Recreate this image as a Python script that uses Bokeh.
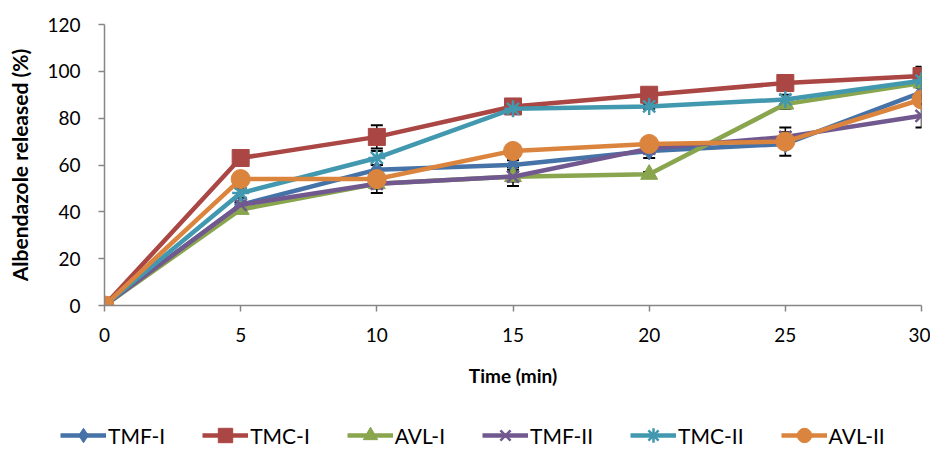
from bokeh.plotting import figure
from bokeh.models import ColumnDataSource, Whisker, TeeHead, Legend, LegendItem, Range1d, FixedTicker
from bokeh.embed import file_html
from bokeh.resources import INLINE

time = [0, 5, 10, 15, 20, 25, 30]
series_names = ["TMF-I", "TMC-I", "AVL-I", "TMF-II", "TMC-II", "AVL-II"]
tmf_i = [0, 43, 58, 60, 66, 69, 91]
tmc_i = [0, 63, 72, 85, 90, 95, 98]
avl_i = [0, 41, 52, 55, 56, 86, 95]
tmf_ii = [0, 43, 52, 55, 67, 72, 81]
tmc_ii = [0, 48, 63, 84, 85, 88, 96]
avl_ii = [0, 54, 54, 66, 69, 70, 88]
err_tmf_i = [0, 1, 2, 2, 3, 5, 3]
err_tmc_i = [0, 3, 5, 2, 2, 2, 4]
err_avl_i = [0, 1, 4, 4, 1, 2, 2]
err_tmf_ii = [0, 1, 2, 2, 2, 4, 5]
err_tmc_ii = [0, 2, 3, 1, 1, 2, 2]
err_avl_ii = [0, 1, 2, 1, 1, 2, 2]
y_ticks = [0, 20, 40, 60, 80, 100, 120]
x_ticks = [0, 5, 10, 15, 20, 25, 30]

values = [tmf_i, tmc_i, avl_i, tmf_ii, tmc_ii, avl_ii]
errors = [err_tmf_i, err_tmc_i, err_avl_i, err_tmf_ii, err_tmc_ii, err_avl_ii]
colors = ["#4572A7", "#AA4643", "#89A54E", "#71588F", "#4198AF", "#DB843D"]
markers = ["diamond", "square", "triangle", "x", "asterisk", "circle"]
sizes = [18, 17, 17, 17, 17, 19]
line_widths = [1, 1, 1, 2.5, 2.5, 1]

FONT = "Lato"

p = figure(width=930, height=393, output_backend="svg", toolbar_location=None,
           x_range=Range1d(0, 30), y_range=Range1d(0, 120),
           min_border_left=104, min_border_right=9, min_border_top=24, min_border_bottom=88)
p.outline_line_color = None
p.xgrid.grid_line_color = None
p.ygrid.grid_line_color = None

for ax in (p.xaxis[0], p.yaxis[0]):
    ax.axis_line_color = "#868686"
    ax.axis_line_width = 1.5
    ax.major_tick_line_color = "#868686"
    ax.major_tick_line_width = 1.5
    ax.major_tick_in = 0
    ax.major_tick_out = 6
    ax.minor_tick_line_color = None
    ax.major_label_text_font = FONT
    ax.major_label_text_font_size = "19px"
    ax.major_label_text_color = "#000000"
    ax.axis_label_text_font = FONT
    ax.axis_label_text_font_size = "19px"
    ax.axis_label_text_font_style = "bold"
    ax.axis_label_text_color = "#000000"

p.xaxis.ticker = FixedTicker(ticks=x_ticks)
p.yaxis.ticker = FixedTicker(ticks=y_ticks)
p.xaxis.axis_label = "Time (min)"
p.yaxis.axis_label = "Albendazole released (%)"
p.yaxis.axis_label_text_font_size = "21px"
p.xaxis.major_label_standoff = 16
p.xaxis.axis_label_standoff = 19
p.yaxis.major_label_standoff = 18
p.yaxis.axis_label_standoff = 12

# legend strip: same series, drawn with a range that shows none of the data
leg_fig = figure(width=930, height=53, output_backend="svg", toolbar_location=None,
                 x_axis_type=None, y_axis_type=None,
                 x_range=Range1d(1000, 1001), y_range=Range1d(1000, 1001),
                 min_border_left=0, min_border_right=0, min_border_top=0, min_border_bottom=0,
                 outline_line_color=None)
leg_fig.xgrid.grid_line_color = None
leg_fig.ygrid.grid_line_color = None

items = []
for name, vals, errs, col, mk, sz, lw in zip(series_names, values, errors, colors, markers, sizes, line_widths):
    src = ColumnDataSource(dict(x=time, y=vals,
                                lo=[v - e for v, e in zip(vals, errs)],
                                hi=[v + e for v, e in zip(vals, errs)]))
    w = Whisker(source=src, base="x", lower="lo", upper="hi", line_color="black", line_width=1.5,
                upper_head=TeeHead(size=12, line_color="black", line_width=2),
                lower_head=TeeHead(size=12, line_color="black", line_width=2))
    p.add_layout(w)
    p.line("x", "y", source=src, line_color=col, line_width=4.5)
    p.scatter("x", "y", source=src, marker=mk, size=sz, line_color=col, line_width=lw, fill_color=col)
    l1 = leg_fig.line("x", "y", source=src, line_color=col, line_width=4.5)
    l2 = leg_fig.scatter("x", "y", source=src, marker=mk, line_color=col, line_width=lw, fill_color=col)
    items.append(LegendItem(label=name, renderers=[l1, l2]))

legend = Legend(items=items, orientation="horizontal", location=(60, -7),
                label_text_font=FONT, label_text_font_size="21px", label_text_color="#000000",
                glyph_width=46, glyph_height=36, label_standoff=2, spacing=37,
                border_line_color=None, background_fill_alpha=0, margin=0, padding=0)
leg_fig.add_layout(legend, "center")

open("out.html", "w").write(file_html([p, leg_fig], INLINE))
